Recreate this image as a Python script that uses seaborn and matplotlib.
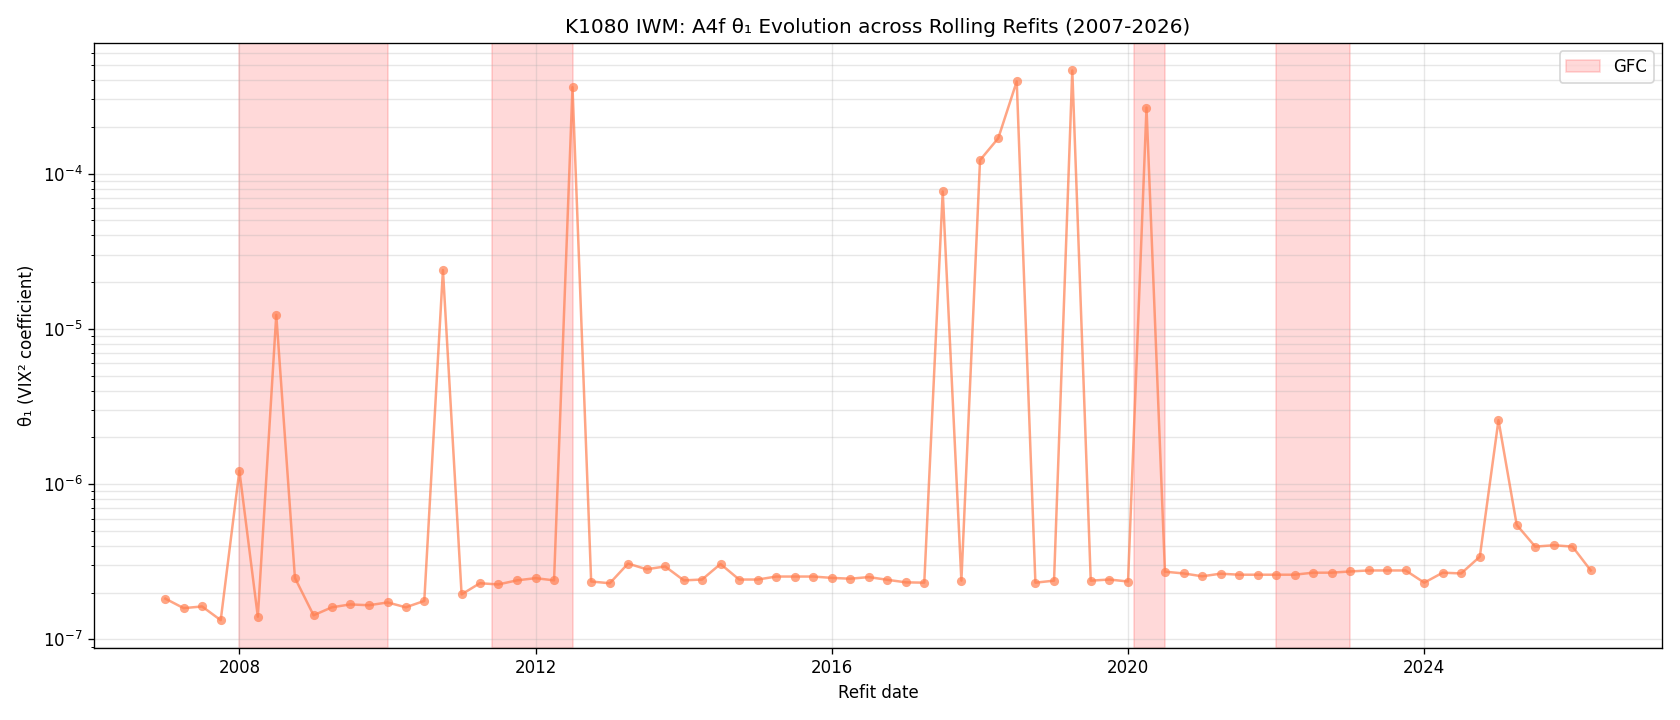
import pandas as pd
import matplotlib
matplotlib.use("Agg")
import matplotlib.pyplot as plt
import seaborn as sns

# quarterly refit dates, Jan 2007 .. Apr 2026
refit_dates = pd.date_range("2007-01-01", periods=78, freq="QS")

theta1 = [
    1.83e-7, 1.59e-7, 1.63e-7, 1.33e-7,   # 2007
    1.22e-6, 1.40e-7, 1.23e-5, 2.49e-7,   # 2008
    1.43e-7, 1.61e-7, 1.68e-7, 1.66e-7,   # 2009
    1.73e-7, 1.61e-7, 1.77e-7, 2.39e-5,   # 2010
    1.95e-7, 2.30e-7, 2.26e-7, 2.40e-7,   # 2011
    2.48e-7, 2.40e-7, 3.60e-4, 2.36e-7,   # 2012
    2.30e-7, 3.08e-7, 2.83e-7, 2.95e-7,   # 2013
    2.40e-7, 2.43e-7, 3.06e-7, 2.43e-7,   # 2014
    2.43e-7, 2.54e-7, 2.54e-7, 2.54e-7,   # 2015
    2.49e-7, 2.46e-7, 2.52e-7, 2.42e-7,   # 2016
    2.33e-7, 2.32e-7, 7.67e-5, 2.39e-7,   # 2017
    1.22e-4, 1.69e-4, 3.92e-4, 2.32e-7,   # 2018
    2.39e-7, 4.61e-4, 2.39e-7, 2.43e-7,   # 2019
    2.36e-7, 2.66e-4, 2.73e-7, 2.66e-7,   # 2020
    2.55e-7, 2.65e-7, 2.61e-7, 2.61e-7,   # 2021
    2.61e-7, 2.61e-7, 2.69e-7, 2.69e-7,   # 2022
    2.74e-7, 2.78e-7, 2.78e-7, 2.78e-7,   # 2023
    2.32e-7, 2.69e-7, 2.66e-7, 3.41e-7,   # 2024
    2.58e-6, 5.46e-7, 3.96e-7, 4.04e-7,   # 2025
    3.96e-7, 2.78e-7,                     # 2026
]

# stress periods shaded on the chart
span_starts = ["2008-01-01", "2011-06-01", "2020-02-01", "2022-01-01"]
span_ends = ["2010-01-01", "2012-07-01", "2020-06-30", "2023-01-01"]
span_labels = ["GFC", None, None, None]

df = pd.DataFrame({"date": refit_dates, "theta1": theta1})

fig, ax = plt.subplots(figsize=(14, 6), dpi=120)

for start, end, lab in zip(span_starts, span_ends, span_labels):
    ax.axvspan(pd.Timestamp(start), pd.Timestamp(end), color="red", alpha=0.15, label=lab)

sns.lineplot(data=df, x="date", y="theta1", ax=ax, color="coral", alpha=0.7,
             marker="o", markersize=5.5, markeredgewidth=0, linewidth=1.5)

ax.set_yscale("log")
ax.grid(True, which="both", alpha=0.3)
ax.set_title("K1080 IWM: A4f θ₁ Evolution across Rolling Refits (2007-2026)")
ax.set_xlabel("Refit date")
ax.set_ylabel("θ₁ (VIX² coefficient)")
ax.legend(loc="upper right")

plt.tight_layout()
plt.savefig("out.png", dpi=120)
plt.close()
